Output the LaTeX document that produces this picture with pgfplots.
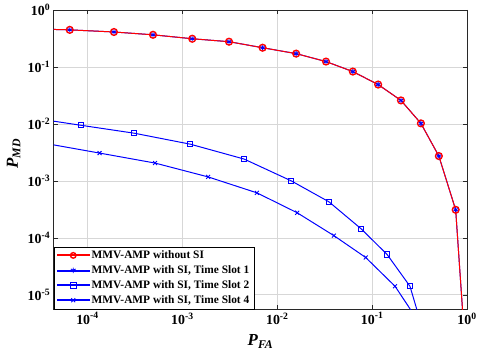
\documentclass[border=0pt]{standalone}
\usepackage{pgfplots}
\pgfplotsset{compat=1.18}
\usepackage{fontspec}
\setmainfont{Liberation Serif}
\usetikzlibrary{calc}
\definecolor{gridln}{RGB}{215,215,215}
\definecolor{axln}{RGB}{40,40,40}
\definecolor{mred}{RGB}{255,0,0}
\definecolor{mblue}{RGB}{0,0,255}

% P_FA vs P_MD
\pgfplotstableread{
x y
2e-5 0.47
6.5e-5 0.447
1.9e-4 0.41
4.9e-4 0.366
1.27e-3 0.312
3.1e-3 0.277
7.0e-3 0.217
0.0158 0.171
0.0326 0.124
0.0625 0.0828
0.1155 0.049
0.201 0.0258
0.326 0.0102
0.504 0.00272
0.758 3.1e-4
0.96 1e-6
}\noSI
\pgfplotstableread{
x y
2e-5 0.0136
8.45e-5 9.46e-3
3.1e-4 6.86e-3
1.21e-3 4.4e-3
4.47e-3 2.41e-3
0.014 1.0e-3
0.035 4.28e-4
0.076 1.45e-4
0.1435 5.1e-5
0.25 1.41e-5
0.40 1e-6
}\slotTwo
\pgfplotstableread{
x y
2e-5 5.4e-3
1.34e-4 3.07e-3
5.15e-4 2.05e-3
1.87e-3 1.17e-3
6.1e-3 6.15e-4
0.0162 2.75e-4
0.0395 1.09e-4
0.0855 4.5e-5
0.174 1.41e-5
0.5 1e-6
}\slotFour

% legend sample: coloured line with one marker in the middle
\pgfplotsset{
  legline/.style n args={3}{legend image code/.code={
    \fill[#1] (0bp,-0.5pt) rectangle (32bp,0.5pt);
    \draw[draw=#1, line width=#3] plot[mark=#2, mark size=2.8bp] coordinates {(16bp,0bp)};}},
}

\begin{document}
\begin{tikzpicture}
\begin{axis}[name=ax, xmode=log, ymode=log, log basis x=10, log basis y=10,
  scale only axis, width=416bp, height=301bp,
  xmin=4.4e-5, xmax=1, ymin=5.6e-6, ymax=1,
  xtick={1e-4,1e-3,1e-2,1e-1,1}, ytick={1e-5,1e-4,1e-3,1e-2,1e-1,1},
  grid=both, major grid style={gridln, line width=0.5pt},
  minor grid style={gray!45, dotted, line width=0.4pt},
  axis line style={axln}, tick style={axln}, tick align=inside,
  major tick length=4bp, minor tick length=2.2bp,
  xticklabel={\textbf{10}\textsuperscript{\textbf{\pgfmathparse{int(round(\tick))}\pgfmathresult}}},
  yticklabel={\textbf{10}\textsuperscript{\textbf{\pgfmathparse{int(round(\tick))}\pgfmathresult}}},
  tick label style={font=\fontsize{14}{14}\selectfont, text=black},
  xlabel={\textbf{\textit{P}}\textsubscript{\textbf{\textit{FA}}}},
  ylabel={\textbf{\textit{P}}\textsubscript{\textbf{\textit{MD}}}},
  every axis x label/.style={at={(axis description cs:0.5,0)}, anchor=north, yshift=-22bp,
    font=\fontsize{17}{17}\selectfont},
  every axis y label/.style={at={(axis description cs:0,0.52)}, xshift=-30bp, rotate=90, anchor=south,
    font=\fontsize{17}{17}\selectfont},
  legend style={at={(0,0)}, anchor=south west,
    font=\fontsize{11.5}{13}\selectfont\bfseries, cells={anchor=west},
    row sep=1.6bp, inner xsep=3bp, inner ysep=2bp},
]
% time slot 1 coincides with the curve without SI
\addplot[mblue, line width=1pt, forget plot] table {\noSI};
\addplot[mred, line width=1pt, mark=o, mark size=3.4bp, mark options={line width=1.4pt},
  legline={mred}{o}{1pt}] table {\noSI};
\addlegendentry{MMV-AMP without SI}
\addplot[mblue, only marks, mark=asterisk, mark size=2.4bp, mark options={line width=0.9pt},
  legline={mblue}{asterisk}{1.2pt}] table {\noSI};
\addlegendentry{MMV-AMP with SI, Time Slot 1}
\addplot[mblue, line width=1pt, mark=square, mark size=2.6bp, mark options={line width=0.9pt},
  legline={mblue}{square}{0.9pt}] table {\slotTwo};
\addlegendentry{MMV-AMP with SI, Time Slot 2}
\addplot[mblue, line width=1pt, mark=x, mark size=2.8bp, mark options={line width=0.9pt},
  legline={mblue}{x}{0.9pt}] table {\slotFour};
\addlegendentry{MMV-AMP with SI, Time Slot 4}
\end{axis}
\path[use as bounding box] ($(ax.south west)+(-54bp,-49bp)$) rectangle ($(ax.north east)+(10bp,10bp)$);
\end{tikzpicture}
\end{document}
